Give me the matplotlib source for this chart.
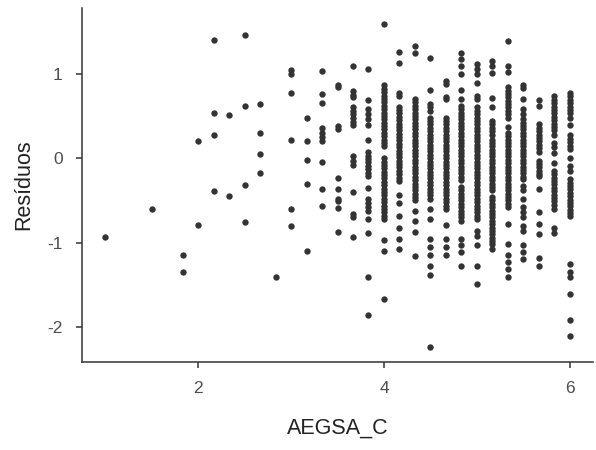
import matplotlib
matplotlib.use("Agg")
import matplotlib.pyplot as plt

plt.rcParams["font.family"] = ["Liberation Sans", "DejaVu Sans"]
plt.rcParams["axes.unicode_minus"] = False

# Residuals grouped by AEGSA_C level (levels step by 1/6)
levels = [1, 1.5, 11/6, 2, 13/6, 7/3, 2.5, 8/3, 17/6, 3, 19/6, 10/3, 3.5, 11/3,
          23/6, 4, 25/6, 13/3, 4.5, 14/3, 29/6, 5, 31/6, 16/3, 5.5, 17/3, 35/6, 6]

res_1_00 = [-0.93]
res_1_50 = [-0.60]
res_1_83 = [-1.15, -1.35]
res_2_00 = [0.20, -0.79]
res_2_17 = [1.40, 0.53, 0.27, -0.39]
res_2_33 = [0.51, -0.45]
res_2_50 = [1.46, 0.62, -0.32, -0.75]
res_2_67 = [0.64, 0.30, 0.05, -0.17]
res_2_83 = [-1.41]
res_3_00 = [1.04, 1.00, 0.77, 0.22, -0.60, -0.80]
res_3_17 = [0.47, 0.20, -0.02, -0.31, -1.10]
res_3_33 = [1.03, 0.76, 0.65, 0.36, 0.30, 0.25, 0.20, -0.04, -0.37, -0.57]
res_3_50 = [0.87, 0.84, 0.38, 0.35, -0.23, -0.37, -0.48, -0.51, -0.59, -0.87]
res_3_67 = [1.09, 0.80, 0.75, 0.72, 0.60, 0.56, 0.52, 0.48, 0.43, 0.39,
            0.02, -0.03, -0.08, -0.40, -0.66, -0.70, -0.93]
res_3_83 = [1.05, 0.69, 0.58, 0.52, 0.46, 0.39, 0.22, 0.07, 0.03, -0.01,
            -0.05, -0.09, -0.13, -0.17, -0.21, -0.35, -0.48, -0.53, -0.58,
            -0.62, -0.72, -0.88, -1.40, -1.85]
res_4_00 = [1.59, 0.86, 0.82, 0.78, 0.74, 0.70, 0.66, 0.62, 0.58, 0.54, 0.50,
            0.46, 0.42, 0.38, 0.34, 0.30, 0.26, 0.22, 0.18, 0.15, 0.00, -0.04,
            -0.08, -0.12, -0.16, -0.20, -0.24, -0.28, -0.32, -0.36, -0.40,
            -0.44, -0.48, -0.52, -0.56, -0.60, -0.64, -0.68, -0.72, -0.97,
            -1.10, -1.67]
res_4_17 = [1.25, 1.13, 0.77, 0.73, 0.61, 0.57, 0.53, 0.49, 0.45, 0.41, 0.37,
            0.33, 0.29, 0.25, 0.21, 0.17, 0.13, 0.09, 0.05, 0.01, -0.03, -0.07,
            -0.11, -0.15, -0.19, -0.23, -0.27, -0.43, -0.53, -0.68, -0.83,
            -0.96, -1.07]
res_4_33 = [1.33, 1.24, 0.70, 0.66, 0.62, 0.58, 0.54, 0.50, 0.46, 0.42, 0.38,
            0.34, 0.30, 0.26, 0.22, 0.18, 0.14, 0.10, 0.06, 0.02, -0.02, -0.06,
            -0.10, -0.14, -0.18, -0.22, -0.26, -0.30, -0.34, -0.38, -0.42,
            -0.46, -0.50, -0.62, -0.74, -0.87, -1.16]
res_4_50 = [1.19, 0.81, 0.64, 0.60, 0.56, 0.48, 0.44, 0.40, 0.36, 0.32, 0.28,
            0.24, 0.20, 0.16, 0.12, 0.08, 0.04, 0.00, -0.04, -0.08, -0.12,
            -0.16, -0.20, -0.24, -0.28, -0.32, -0.36, -0.40, -0.44, -0.48,
            -0.60, -0.72, -0.95, -1.05, -1.15, -1.27, -1.38, -2.23]
res_4_67 = [0.91, 0.88, 0.72, 0.70, 0.48, 0.44, 0.40, 0.36, 0.32, 0.28, 0.24,
            0.20, 0.16, 0.12, 0.08, 0.04, 0.00, -0.04, -0.08, -0.12, -0.16,
            -0.20, -0.24, -0.28, -0.32, -0.36, -0.40, -0.44, -0.48, -0.52,
            -0.56, -0.60, -0.79, -0.95, -1.05, -1.14]
res_4_83 = [1.24, 1.17, 1.09, 0.99, 0.81, 0.70, 0.62, 0.58, 0.54, 0.50, 0.46,
            0.42, 0.38, 0.34, 0.30, 0.26, 0.22, 0.18, 0.14, 0.10, 0.06, 0.02,
            -0.02, -0.06, -0.10, -0.14, -0.18, -0.22, -0.26, -0.34, -0.38,
            -0.42, -0.46, -0.50, -0.54, -0.58, -0.62, -0.66, -0.70, -0.74,
            -0.95, -1.03, -1.11, -1.27]
res_5_00 = [1.11, 1.05, 0.99, 0.89, 0.73, 0.70, 0.60, 0.56, 0.52, 0.48, 0.44,
            0.40, 0.36, 0.32, 0.28, 0.24, 0.20, 0.16, 0.12, 0.08, 0.04, 0.00,
            -0.04, -0.08, -0.12, -0.16, -0.20, -0.24, -0.28, -0.32, -0.36,
            -0.40, -0.44, -0.48, -0.52, -0.56, -0.60, -0.64, -0.68, -0.72,
            -0.86, -0.92, -1.03, -1.27, -1.49]
res_5_17 = [1.15, 1.09, 1.01, 0.71, 0.60, 0.44, 0.40, 0.36, 0.32, 0.28, 0.22,
            0.18, 0.14, 0.10, 0.06, 0.02, -0.02, -0.06, -0.10, -0.14, -0.18,
            -0.22, -0.26, -0.30, -0.34, -0.38, -0.46, -0.50, -0.54, -0.58,
            -0.62, -0.66, -0.70, -0.74, -0.78, -0.82, -0.86, -0.90, -0.94,
            -0.98, -1.02, -1.07]
res_5_33 = [1.38, 1.09, 1.02, 0.84, 0.80, 0.76, 0.72, 0.68, 0.64, 0.60, 0.56,
            0.52, 0.48, 0.37, 0.30, 0.26, 0.22, 0.18, 0.14, 0.10, 0.06, 0.02,
            -0.02, -0.06, -0.10, -0.14, -0.18, -0.22, -0.26, -0.30, -0.34,
            -0.38, -0.42, -0.46, -0.50, -0.54, -0.58, -0.78, -1.02, -1.15,
            -1.23, -1.31, -1.40]
res_5_50 = [0.87, 0.83, 0.70, 0.58, 0.52, 0.46, 0.42, 0.38, 0.34, 0.30, 0.26,
            0.22, 0.18, 0.14, 0.10, 0.06, 0.02, -0.02, -0.06, -0.10, -0.14,
            -0.18, -0.22, -0.25, -0.33, -0.38, -0.48, -0.58, -0.64, -0.70,
            -0.80, -0.86, -1.03, -1.11, -1.19]
res_5_67 = [0.69, 0.62, 0.40, 0.36, 0.32, 0.28, 0.24, 0.20, 0.16, 0.12, 0.07,
            -0.03, -0.07, -0.11, -0.15, -0.19, -0.21, -0.37, -0.64, -0.78,
            -0.90, -1.18, -1.27]
res_5_83 = [0.73, 0.69, 0.65, 0.61, 0.57, 0.53, 0.49, 0.45, 0.41, 0.37, 0.33,
            0.28, 0.18, 0.13, 0.06, -0.06, -0.15, -0.19, -0.23, -0.27, -0.31,
            -0.35, -0.39, -0.43, -0.47, -0.51, -0.55, -0.60, -0.82, -0.89]
res_6_00 = [0.77, 0.73, 0.69, 0.65, 0.61, 0.57, 0.53, 0.48, 0.39, 0.27, 0.23,
            0.19, 0.15, 0.11, 0.00, -0.09, -0.15, -0.25, -0.29, -0.33, -0.37,
            -0.41, -0.45, -0.49, -0.53, -0.57, -0.61, -0.65, -0.68, -1.25,
            -1.35, -1.40, -1.61, -1.91, -2.10]

residuals = [res_1_00, res_1_50, res_1_83, res_2_00, res_2_17, res_2_33,
             res_2_50, res_2_67, res_2_83, res_3_00, res_3_17, res_3_33,
             res_3_50, res_3_67, res_3_83, res_4_00, res_4_17, res_4_33,
             res_4_50, res_4_67, res_4_83, res_5_00, res_5_17, res_5_33,
             res_5_50, res_5_67, res_5_83, res_6_00]

xs, ys = [], []
for lv, vals in zip(levels, residuals):
    xs.extend([lv] * len(vals))
    ys.extend(vals)

fig = plt.figure(figsize=(5.96, 4.5), dpi=100)
ax = fig.add_axes([0.1376, 0.1956, 0.8574, 0.7866])

ax.scatter(xs, ys, s=21, color="#333333", linewidths=0, zorder=3)

ax.set_xlim(0.75, 6.25)
ax.set_ylim(-2.41, 1.776)
ax.set_xticks([2, 4, 6])
ax.set_yticks([-2, -1, 0, 1])

for side in ("top", "right"):
    ax.spines[side].set_visible(False)
for side in ("left", "bottom"):
    ax.spines[side].set_color("#333333")
    ax.spines[side].set_linewidth(1.1)

ax.tick_params(axis="both", length=4.5, width=1.1, color="#333333",
               labelcolor="#4d4d4d", labelsize=12.5, pad=9.5)

ax.set_xlabel("AEGSA_C", fontsize=15.5, color="#222222", labelpad=15)
ax.set_ylabel("Resíduos", fontsize=15.5, color="#222222", labelpad=9)

fig.savefig("out.png", dpi=100)
